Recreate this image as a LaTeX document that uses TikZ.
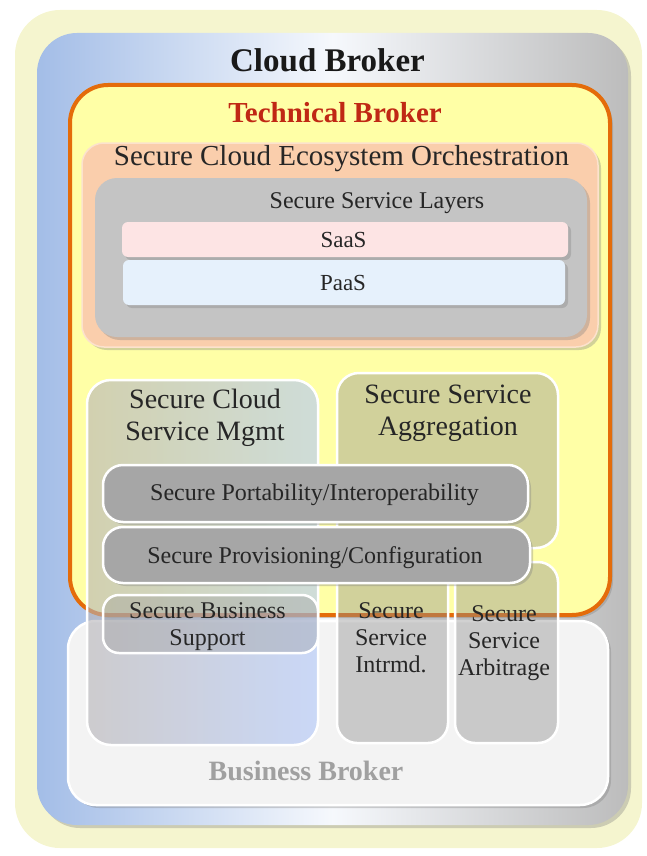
\documentclass[tikz,border=0pt]{standalone}
\usepackage{fontspec}
\setmainfont{Liberation Serif}
\usepackage{xcolor}
\usetikzlibrary{shadows}

\definecolor{paleyellow}{RGB}{245,245,207}
\definecolor{brokerblue}{RGB}{163,189,231}
\definecolor{brokergray}{RGB}{188,188,188}
\definecolor{techyellow}{RGB}{255,255,166}
\definecolor{techorange}{RGB}{228,108,10}
\definecolor{techred}{RGB}{192,40,20}
\definecolor{orchpeach}{RGB}{250,206,172}
\definecolor{layergray}{RGB}{196,196,196}
\definecolor{saaspink}{RGB}{253,228,228}
\definecolor{paasblue}{RGB}{230,241,252}
\definecolor{bizwhite}{RGB}{243,243,243}
\definecolor{bizgray}{RGB}{160,160,160}
\definecolor{mgmtleft}{RGB}{180,178,182}
\definecolor{mgmtright}{RGB}{175,198,250}
\definecolor{bargray}{RGB}{166,166,166}
\definecolor{textdark}{RGB}{38,38,38}

\begin{document}
\begin{tikzpicture}[x=1pt, y=-1pt,
        panel/.style={rectangle, rounded corners=#1, inner sep=0pt},
        shade/.style={drop shadow={shadow xshift=3pt, shadow yshift=-3pt, opacity=0.35}},
        rim/.style={draw=white, line width=2.5pt},
        seethrough/.style={fill=black!45, fill opacity=0.4},
        txt/.style={text=textdark, align=center, anchor=base, inner sep=0pt},
        big/.style={font=\fontsize{28}{32}\selectfont},
        small/.style={font=\fontsize{24}{27}\selectfont}]

        % Fix the page size
        \useasboundingbox (0,0) rectangle (646,856);

        % Pale background and the cloud broker frame
        \node[panel=45, fill=paleyellow, minimum width=627, minimum height=838] (back) at (328.5,429) {};
        \node[panel=40, left color=brokerblue, right color=brokergray, middle color=white!90!brokerblue,
              shade, minimum width=591, minimum height=792] (cloud) at (332.5,429) {};
        \node[txt, font=\fontsize{33}{36}\selectfont\bfseries, text=black!90] (cloudtitle) at (327.5,72) {Cloud Broker};

        % Technical broker with the orchestration block
        \node[panel=38, fill=techyellow, draw=techorange, line width=4pt, shade,
              minimum width=540, minimum height=530] (tech) at (340,350) {};
        \node[txt, font=\fontsize{29}{32}\selectfont\bfseries, text=techred] (techtitle) at (335,122) {Technical Broker};

        \node[panel=22, fill=orchpeach, draw=white!40!orchpeach, line width=1.5pt, shade,
              minimum width=516, minimum height=204] (orch) at (340,245) {};
        \node[txt, font=\fontsize{29}{32}\selectfont] (orchtitle) at (341.5,165) {Secure Cloud Ecosystem Orchestration};

        \node[panel=22, fill=layergray, shade, minimum width=492, minimum height=159] (layers) at (341,257.5) {};
        \node[txt, small] (layerstitle) at (377,208) {Secure Service Layers};

        \node[panel=6, fill=saaspink, shade, minimum width=446, minimum height=35] (saas) at (345,239.5) {};
        \node[txt, font=\fontsize{23}{26}\selectfont] (saastext) at (343.5,247) {SaaS};
        \node[panel=6, fill=paasblue, shade, minimum width=442, minimum height=45] (paas) at (344,282.5) {};
        \node[txt, font=\fontsize{23}{26}\selectfont] (paastext) at (343,290) {PaaS};

        % Business broker at the bottom
        \node[panel=28, fill=bizwhite, rim, shade, minimum width=540, minimum height=184] (biz) at (338,713) {};
        \node[txt, font=\fontsize{28}{31}\selectfont\bfseries, text=bizgray] (biztitle) at (306,780) {Business Broker};

        % Tall service blocks, partly see-through
        \node[panel=24, left color=mgmtleft, right color=mgmtright, fill opacity=0.6, rim,
              minimum width=231, minimum height=365] (mgmt) at (202.5,562.5) {};
        \node[panel=22, seethrough, rim, minimum width=221, minimum height=175] (aggr) at (447.5,460.5) {};
        \node[panel=20, seethrough, rim, minimum width=111, minimum height=180] (intrmd) at (392.5,653) {};
        \node[panel=20, seethrough, rim, minimum width=103, minimum height=181] (arbit) at (506.5,652.5) {};

        % multi-line texts sit on the baseline of their last line
        \node[txt, big] (mgmttitle) at (205,440) {Secure Cloud\\Service Mgmt};
        \node[txt, big] (aggrtitle) at (448,435) {Secure Service\\Aggregation};
        \node[txt, small] (intrmdtitle) at (391,672) {Secure\\Service\\Intrmd.};
        \node[txt, small] (arbittitle) at (504,675) {Secure\\Service\\Arbitrage};

        % Cross-cutting bars
        \node[panel=20, fill=bargray, rim, shade, minimum width=425, minimum height=57] (port) at (315.5,493.5) {};
        \node[txt, small] (porttext) at (314.5,500) {Secure Portability/Interoperability};
        \node[panel=20, fill=bargray, rim, shade, minimum width=427, minimum height=56] (prov) at (316.5,555) {};
        \node[txt, small] (provtext) at (315,563) {Secure Provisioning/Configuration};

        \node[panel=16, fill=black!40, fill opacity=0.35, rim, minimum width=215, minimum height=58] (supp) at (210.5,624) {};
        \node[txt, small] (supptext) at (207.5,645) {Secure Business\\Support};
    \end{tikzpicture}
\end{document}
